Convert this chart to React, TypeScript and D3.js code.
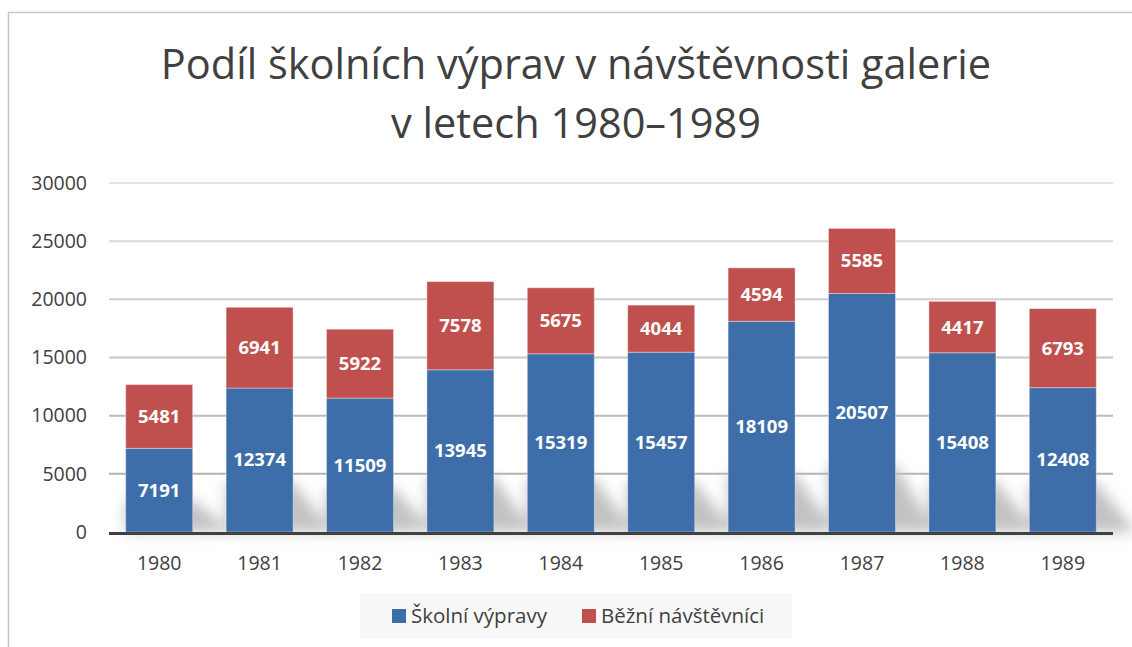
import React, { useEffect, useRef } from 'react';
import * as d3 from 'd3';

const years = ['1980', '1981', '1982', '1983', '1984', '1985', '1986', '1987', '1988', '1989'];
const skolni = [7191, 12374, 11509, 13945, 15319, 15457, 18109, 20507, 15408, 12408];
const bezni = [5481, 6941, 5922, 7578, 5675, 4044, 4594, 5585, 4417, 6793];
const seriesNames = ['Školní výpravy', 'Běžní návštěvníci'];
const colors = ['#3d6ea9', '#c0504d'];
const yTicks = [0, 5000, 10000, 15000, 20000, 25000, 30000];

const W = 1132;
const H = 647;
const FONT = "'Open Sans', 'Noto Sans', sans-serif";

export default function App() {
  const svgRef = useRef<SVGSVGElement | null>(null);

  useEffect(() => {
    const svg = d3.select(svgRef.current);
    svg.selectAll('*').remove();

    const margin = { top: 183, right: 19, bottom: 115, left: 109 };
    const base = H - margin.bottom;

    const x = d3.scaleBand<string>().domain(years).range([margin.left, W - margin.right]).paddingInner(0.333).paddingOuter(0.1665);
    const y = d3.scaleLinear().domain([0, 30000]).range([base, margin.top]);

    // rámeček
    svg.append('rect').attr('x', 8.5).attr('y', 12.5).attr('width', W + 10).attr('height', H + 10)
      .attr('fill', '#fff').attr('stroke', '#c8c8c8').attr('stroke-width', 1.5);

    // titulek
    const title = svg.append('text').attr('text-anchor', 'middle').attr('fill', '#404040')
      .style('font-family', FONT).style('font-size', '41.5px');
    title.append('tspan').attr('x', 576).attr('y', 79).text('Podíl školních výprav v návštěvnosti galerie');
    title.append('tspan').attr('x', 576).attr('y', 138).text('v letech 1980–1989');

    // mřížka
    const grid = d3.scaleLinear<string>().domain([30000, 0]).range(['#e3e3e3', '#a8a8a8']);
    svg.append('g').selectAll('line').data(yTicks.filter(t => t > 0)).join('line')
      .attr('x1', margin.left).attr('x2', W - margin.right)
      .attr('y1', d => y(d)).attr('y2', d => y(d))
      .attr('stroke', d => grid(d)).attr('stroke-width', 2);

    // popisky osy y
    svg.append('g').selectAll('text').data(yTicks).join('text')
      .attr('x', 87).attr('y', d => y(d)).attr('dy', '0.35em').attr('text-anchor', 'end')
      .attr('fill', '#404040').style('font-family', FONT).style('font-size', '19.5px')
      .text(d => String(d));

    // stíny
    const defs = svg.append('defs');
    defs.append('filter').attr('id', 'blur').attr('x', '-50%').attr('y', '-50%').attr('width', '200%').attr('height', '200%')
      .append('feGaussianBlur').attr('stdDeviation', 7);
    const bw = x.bandwidth();
    svg.append('g').attr('filter', 'url(#blur)').selectAll('path').data(years).join('path')
      .attr('d', (d, i) => {
        const x0 = x(d)!;
        const x1 = x0 + bw;
        const h = (base - y(skolni[i] + bezni[i])) * 0.22;
        return `M${x0},${base - h}L${x1},${base - h}L${x1 + 40},${base}L${x0},${base}Z`;
      })
      .attr('fill', '#c2c2c2');

    // sloupce
    const stacked = d3.stack<number>().keys(['0', '1']).value((i, k) => (k === '0' ? skolni[i] : bezni[i]))(d3.range(years.length));
    stacked.forEach((layer, si) => {
      const g = svg.append('g');
      g.selectAll('rect').data(layer).join('rect')
        .attr('x', (_, i) => x(years[i])!).attr('width', bw)
        .attr('y', d => y(d[1])).attr('height', d => y(d[0]) - y(d[1]))
        .attr('fill', colors[si]).attr('stroke', 'rgba(255,255,255,0.35)').attr('stroke-width', 1);
      g.selectAll('text').data(layer).join('text')
        .attr('x', (_, i) => x(years[i])! + bw / 2).attr('y', d => (y(d[0]) + y(d[1])) / 2)
        .attr('dy', '0.35em').attr('text-anchor', 'middle').attr('fill', '#fff')
        .style('font-family', FONT).style('font-size', '18.5px').style('font-weight', 'bold')
        .text(d => String(d[1] - d[0]));
    });

    // osa x
    svg.append('line').attr('x1', margin.left).attr('x2', W - margin.right).attr('y1', base + 1.5).attr('y2', base + 1.5)
      .attr('stroke', '#404040').attr('stroke-width', 3);

    svg.append('g').selectAll('text').data(years).join('text')
      .attr('x', d => x(d)! + bw / 2).attr('y', 563).attr('dy', '0.35em').attr('text-anchor', 'middle')
      .attr('fill', '#404040').style('font-family', FONT).style('font-size', '19.5px')
      .text(d => d);

    // legenda
    const lg = svg.append('g');
    lg.append('rect').attr('x', 360).attr('y', 593).attr('width', 432).attr('height', 46).attr('fill', '#f8f8f8');
    const lx = [392, 582];
    seriesNames.forEach((n, i) => {
      lg.append('rect').attr('x', lx[i]).attr('y', 609).attr('width', 14).attr('height', 14).attr('fill', colors[i]);
      lg.append('text').attr('x', lx[i] + 19).attr('y', 616).attr('dy', '0.35em')
        .attr('fill', '#404040').style('font-family', FONT).style('font-size', '20.5px').text(n);
    });
  }, []);

  return <svg ref={svgRef} width={W} height={H} style={{ position: 'absolute', left: 0, top: 0 }}></svg>;
}
